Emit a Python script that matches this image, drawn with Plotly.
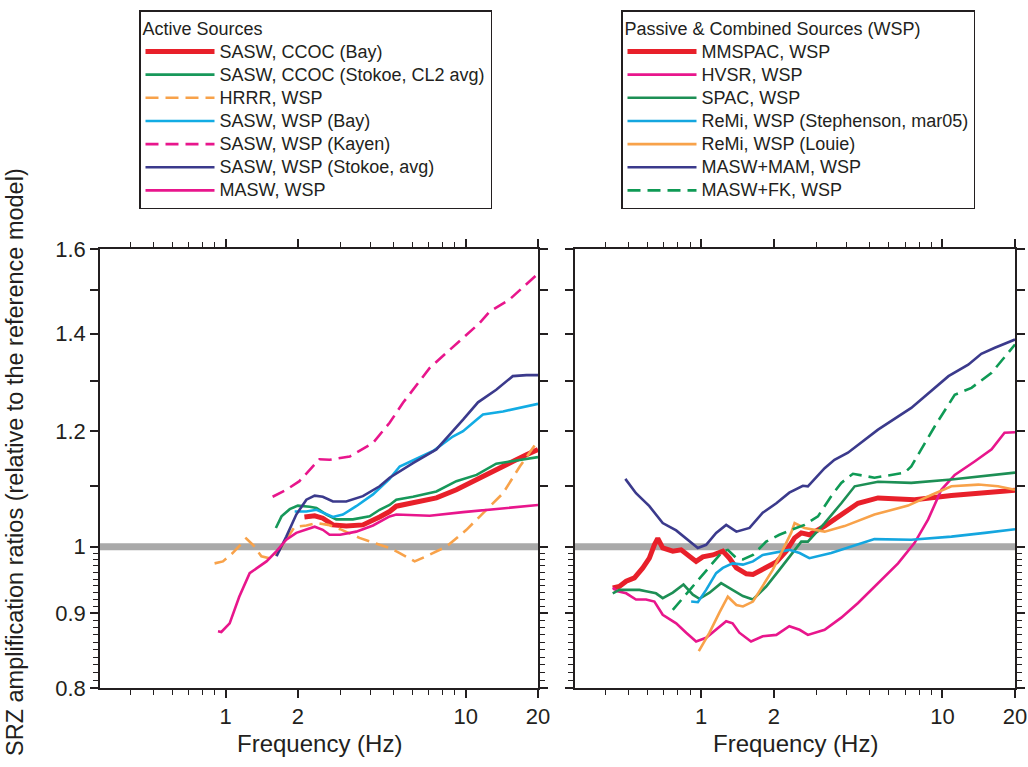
import plotly.graph_objects as go

# ---------------- data (frequency in Hz, SRZ amplification ratio) ----------------
# Active sources (left panel)
ccoc_bay_f = [2.13, 2.35, 2.54, 2.80, 3.18, 3.73, 4.38, 4.82, 5.14, 6.03, 7.55, 9.14, 11.1, 13.4, 15.7, 17.9, 20]
ccoc_bay_v = [1.048, 1.050, 1.046, 1.035, 1.033, 1.035, 1.048, 1.057, 1.066, 1.071, 1.080, 1.094, 1.112, 1.131, 1.144, 1.156, 1.166]

ccoc_stokoe_f = [1.62, 1.71, 1.85, 2.0, 2.24, 2.39, 2.63, 2.89, 3.39, 3.98, 4.38, 4.82, 5.14, 6.03, 7.55, 9.14, 11.1, 13.4, 15.3, 17.9, 20]
ccoc_stokoe_v = [1.030, 1.049, 1.061, 1.067, 1.065, 1.063, 1.052, 1.044, 1.044, 1.049, 1.060, 1.068, 1.077, 1.082, 1.091, 1.109, 1.120, 1.140, 1.144, 1.149, 1.152]

hrrr_f = [0.90, 0.975, 1.07, 1.22, 1.30, 1.41, 1.55, 1.68, 1.94, 2.17, 2.39, 2.67, 3.0, 3.61, 4.38, 4.82, 5.31, 6.13, 6.85, 8.31, 10.07, 12.2, 14.3, 16.8, 19.7, 20]
hrrr_v = [0.974, 0.977, 0.990, 1.013, 1.003, 0.985, 0.981, 0.995, 1.032, 1.034, 1.038, 1.035, 1.028, 1.014, 1.003, 0.998, 0.990, 0.977, 0.985, 1.0, 1.027, 1.06, 1.088, 1.135, 1.178, 1.182]

wsp_bay_f = [1.94, 2.17, 2.39, 2.63, 2.80, 3.08, 3.5, 4.11, 4.82, 5.31, 6.03, 7.31, 8.84, 9.75, 11.1, 11.8, 14.3, 17.3, 20]
wsp_bay_v = [1.057, 1.057, 1.060, 1.052, 1.048, 1.052, 1.066, 1.086, 1.113, 1.135, 1.146, 1.163, 1.190, 1.200, 1.222, 1.232, 1.238, 1.247, 1.253]

wsp_kayen_f = [1.57, 1.79, 2.03, 2.24, 2.46, 2.71, 3.29, 4.11, 4.82, 5.48, 6.23, 7.08, 8.31, 9.75, 11.4, 12.6, 15.2, 20]
wsp_kayen_v = [1.082, 1.094, 1.109, 1.129, 1.148, 1.147, 1.153, 1.178, 1.216, 1.255, 1.291, 1.326, 1.358, 1.390, 1.423, 1.450, 1.477, 1.539]

wsp_stokoe_f = [1.63, 1.79, 1.97, 2.17, 2.35, 2.54, 2.80, 3.18, 3.73, 4.38, 4.82, 6.03, 7.55, 8.58, 9.75, 11.25, 13.4, 15.7, 17.9, 20]
wsp_stokoe_v = [0.985, 1.016, 1.052, 1.077, 1.084, 1.082, 1.074, 1.074, 1.083, 1.100, 1.115, 1.141, 1.166, 1.193, 1.222, 1.256, 1.281, 1.309, 1.311, 1.311]

masw_f = [0.93, 0.96, 1.04, 1.14, 1.26, 1.36, 1.48, 1.63, 1.79, 1.97, 2.17, 2.35, 2.54, 2.71, 3.0, 3.5, 4.11, 4.82, 5.14, 7.08, 9.75, 13.4, 20]
masw_v = [0.875, 0.874, 0.886, 0.924, 0.959, 0.967, 0.977, 0.993, 1.011, 1.022, 1.027, 1.032, 1.027, 1.019, 1.019, 1.024, 1.034, 1.049, 1.052, 1.050, 1.056, 1.061, 1.068]

# Passive & combined sources (right panel)
mmspac_f = [0.43, 0.458, 0.489, 0.529, 0.573, 0.61, 0.64, 0.661, 0.693, 0.763, 0.826, 0.895, 0.953, 1.016, 1.118, 1.23, 1.31, 1.40, 1.54, 1.64, 1.80, 2.05, 2.25, 2.44, 2.60, 2.81, 3.25, 3.81, 4.47, 5.41, 7.67, 10.9, 15.0, 20]
mmspac_v = [0.937, 0.939, 0.947, 0.952, 0.967, 0.982, 1.003, 1.013, 0.998, 0.993, 0.995, 0.985, 0.977, 0.984, 0.987, 0.993, 0.982, 0.967, 0.958, 0.957, 0.964, 0.976, 0.993, 1.014, 1.022, 1.019, 1.033, 1.052, 1.071, 1.080, 1.077, 1.084, 1.089, 1.093]

hvsr_f = [0.43, 0.451, 0.489, 0.537, 0.591, 0.64, 0.693, 0.788, 0.867, 0.953, 1.049, 1.154, 1.27, 1.35, 1.44, 1.61, 1.80, 2.05, 2.32, 2.56, 2.77, 3.25, 3.81, 4.47, 5.41, 6.55, 7.67, 8.73, 9.9, 11.25, 13.6, 16.0, 18.1, 20]
hvsr_v = [0.937, 0.932, 0.929, 0.920, 0.920, 0.917, 0.898, 0.886, 0.873, 0.861, 0.866, 0.877, 0.889, 0.886, 0.873, 0.861, 0.868, 0.870, 0.882, 0.877, 0.870, 0.877, 0.894, 0.915, 0.944, 0.974, 1.006, 1.044, 1.094, 1.120, 1.144, 1.166, 1.197, 1.198]

spac_f = [0.43, 0.458, 0.504, 0.555, 0.591, 0.65, 0.693, 0.763, 0.845, 0.924, 0.984, 1.083, 1.21, 1.35, 1.49, 1.64, 1.86, 2.11, 2.40, 2.60, 2.77, 3.25, 3.81, 4.33, 5.41, 7.43, 10.9, 16.0, 20]
spac_v = [0.929, 0.934, 0.934, 0.934, 0.932, 0.929, 0.922, 0.930, 0.942, 0.927, 0.921, 0.930, 0.944, 0.934, 0.925, 0.920, 0.939, 0.964, 0.990, 1.008, 1.008, 1.038, 1.071, 1.100, 1.108, 1.106, 1.112, 1.119, 1.124]

remi_st_f = [0.909, 0.969, 1.049, 1.154, 1.23, 1.35, 1.49, 1.64, 1.80, 2.05, 2.32, 2.56, 2.81, 3.46, 4.19, 5.23, 7.43, 10.9, 15.0, 20]
remi_st_v = [0.917, 0.916, 0.934, 0.959, 0.967, 0.974, 0.972, 0.977, 0.987, 0.991, 0.995, 0.990, 0.982, 0.990, 1.0, 1.012, 1.011, 1.016, 1.022, 1.028]

remi_lo_f = [0.978, 1.083, 1.19, 1.29, 1.40, 1.49, 1.64, 1.80, 1.98, 2.18, 2.36, 2.44, 2.68, 3.25, 3.93, 5.23, 7.21, 9.0, 10.9, 14.1, 17.0, 20]
remi_lo_v = [0.848, 0.873, 0.901, 0.924, 0.912, 0.910, 0.917, 0.939, 0.964, 0.995, 1.022, 1.038, 1.030, 1.024, 1.033, 1.052, 1.067, 1.085, 1.100, 1.103, 1.100, 1.094]

mam_f = [0.485, 0.537, 0.61, 0.693, 0.788, 0.881, 0.969, 1.049, 1.154, 1.27, 1.40, 1.587, 1.80, 2.05, 2.32, 2.64, 2.77, 3.25, 3.57, 4.06, 5.41, 7.43, 9.29, 10.6, 12.8, 14.5, 16.5, 20]
mam_v = [1.113, 1.088, 1.066, 1.038, 1.026, 1.011, 0.998, 1.003, 1.022, 1.035, 1.024, 1.030, 1.055, 1.071, 1.089, 1.101, 1.100, 1.132, 1.147, 1.160, 1.203, 1.245, 1.285, 1.309, 1.333, 1.356, 1.369, 1.387]

fk_f = [0.763, 0.84, 0.953, 1.083, 1.23, 1.29, 1.40, 1.49, 1.64, 1.86, 2.11, 2.40, 2.68, 3.05, 3.46, 3.81, 4.26, 5.23, 6.98, 7.43, 8.45, 9.29, 11.25, 13.2, 16.0, 20]
fk_v = [0.905, 0.922, 0.944, 0.969, 0.993, 0.995, 0.982, 0.980, 0.987, 1.008, 1.019, 1.028, 1.035, 1.049, 1.083, 1.106, 1.122, 1.115, 1.124, 1.135, 1.178, 1.209, 1.271, 1.285, 1.316, 1.376]

# axis ticks
x_major = [1, 2, 10, 20]
x_major_text = ["1", "2", "10", "20"]
x_minor = [0.4, 0.5, 0.6, 0.7, 0.8, 0.9, 3, 4, 5, 6, 7, 8, 9]
y_major = [0.8, 0.9, 1.0, 1.1, 1.2, 1.3, 1.4, 1.5, 1.6]
y_major_text = ["0.8", "0.9", "1", "", "1.2", "", "1.4", "", "1.6"]
y_minor = [round(0.80 + 0.01 * i, 2) for i in range(1, 20) if i != 10]

# ---------------- styling ----------------
RED = "#e8202a"
GREEN = "#17985a"
ORANGE = "#f8a24a"
LBLUE = "#12ace4"
MAGENTA = "#e8168c"
DBLUE = "#3b3a8c"
INK = "#231f20"
FONT = "Liberation Sans, Arial, Helvetica, sans-serif"
DASH = "13px,7px"

fig = go.Figure()

left = [
    ("SASW, CCOC (Bay)", ccoc_bay_f, ccoc_bay_v, RED, 5, "solid"),
    ("SASW, CCOC (Stokoe, CL2 avg)", ccoc_stokoe_f, ccoc_stokoe_v, GREEN, 2.6, "solid"),
    ("HRRR, WSP", hrrr_f, hrrr_v, ORANGE, 2.6, DASH),
    ("SASW, WSP (Bay)", wsp_bay_f, wsp_bay_v, LBLUE, 2.6, "solid"),
    ("SASW, WSP (Kayen)", wsp_kayen_f, wsp_kayen_v, MAGENTA, 2.6, DASH),
    ("SASW, WSP (Stokoe, avg)", wsp_stokoe_f, wsp_stokoe_v, DBLUE, 2.6, "solid"),
    ("MASW, WSP", masw_f, masw_v, MAGENTA, 2.6, "solid"),
]
right = [
    ("MMSPAC, WSP", mmspac_f, mmspac_v, RED, 5, "solid"),
    ("HVSR, WSP", hvsr_f, hvsr_v, MAGENTA, 2.6, "solid"),
    ("SPAC, WSP", spac_f, spac_v, "#1d8f55", 2.6, "solid"),
    ("ReMi, WSP (Stephenson, mar05)", remi_st_f, remi_st_v, "#14a6df", 2.6, "solid"),
    ("ReMi, WSP (Louie)", remi_lo_f, remi_lo_v, ORANGE, 2.6, "solid"),
    ("MASW+MAM, WSP", mam_f, mam_v, DBLUE, 2.6, "solid"),
    ("MASW+FK, WSP", fk_f, fk_v, "#0f9a55", 2.6, DASH),
]

def label(s):
    return '<span style="font-size:18px">' + s + '</span>'

for name, f, v, c, w, d in left:
    fig.add_trace(go.Scatter(x=f, y=v, mode="lines", name=label(name), legend="legend",
                             line=dict(color=c, width=w, dash=d), xaxis="x", yaxis="y"))
for name, f, v, c, w, d in right:
    fig.add_trace(go.Scatter(x=f, y=v, mode="lines", name=label(name), legend="legend2",
                             line=dict(color=c, width=w, dash=d), xaxis="x2", yaxis="y2"))

W, H = 1028, 767
xd1 = [100 / W, 538 / W]
xd2 = [575 / W, 1015 / W]
yd = [1 - 688 / H, 1 - 249 / H]

def xax(domain, anchor):
    return dict(type="log", domain=domain, anchor=anchor, range=[-0.5229, 1.30103],
                tickmode="array", tickvals=x_major, ticktext=x_major_text,
                ticks="outside", ticklen=8, tickwidth=1.5, tickcolor=INK,
                minor=dict(tickmode="array", tickvals=x_minor, ticks="outside", ticklen=5,
                           tickwidth=1.2, tickcolor=INK, showgrid=False),
                showline=True, linecolor=INK, linewidth=1.5, mirror="allticks",
                showgrid=False, zeroline=False, automargin=False,
                tickfont=dict(size=22, color=INK, family=FONT))

def yax(anchor, labels):
    return dict(type="log", domain=yd, anchor=anchor, range=[-0.09691, 0.20412],
                tickmode="array", tickvals=y_major, ticktext=y_major_text,
                ticks="outside", ticklen=8, tickwidth=1.5, tickcolor=INK,
                minor=dict(tickmode="array", tickvals=y_minor, ticks="outside", ticklen=5,
                           tickwidth=1.2, tickcolor=INK, showgrid=False),
                showline=True, linecolor=INK, linewidth=1.5, mirror="allticks",
                showgrid=False, zeroline=False, automargin=False, showticklabels=labels,
                tickfont=dict(size=22, color=INK, family=FONT))

legend_common = dict(bgcolor="white", bordercolor=INK, borderwidth=1.5,
                     font=dict(size=15.5, color=INK, family=FONT), itemwidth=69,
                     xanchor="left", yanchor="top", tracegroupgap=0,
                     title=dict(font=dict(size=18, color=INK, family=FONT)))

fig.update_layout(
    width=W, height=H, autosize=False,
    margin=dict(l=0, r=0, t=0, b=0),
    paper_bgcolor="white", plot_bgcolor="white",
    font=dict(family=FONT, color=INK),
    xaxis=xax(xd1, "y"), yaxis=yax("x", True),
    xaxis2=xax(xd2, "y2"), yaxis2=yax("x2", False),
    legend=dict(legend_common, x=139 / W, y=1 - 10 / H, title_text="Active Sources"),
    legend2=dict(legend_common, x=621 / W, y=1 - 10 / H, title_text="Passive & Combined Sources (WSP)"),
    shapes=[
        dict(type="line", xref="x domain", yref="y", x0=0, x1=1, y0=1, y1=1,
             line=dict(color="#a9a9a9", width=7), layer="below"),
        dict(type="line", xref="x2 domain", yref="y2", x0=0, x1=1, y0=1, y1=1,
             line=dict(color="#a9a9a9", width=7), layer="below"),
    ],
    annotations=[
        dict(text="Frequency (Hz)", xref="x domain", yref="paper", x=0.5, y=1 - 743 / H,
             xanchor="center", yanchor="middle", showarrow=False,
             font=dict(size=24, color=INK, family=FONT)),
        dict(text="Frequency (Hz)", xref="x2 domain", yref="paper", x=0.5, y=1 - 743 / H,
             xanchor="center", yanchor="middle", showarrow=False,
             font=dict(size=24, color=INK, family=FONT)),
        dict(text="SRZ amplification ratios (relative to the reference model)", xref="paper",
             yref="paper", x=15 / W, y=1 - 462 / H, xanchor="center", yanchor="middle",
             textangle=-90, showarrow=False, font=dict(size=23.5, color=INK, family=FONT)),
    ],
)

fig.write_html("out.html")
